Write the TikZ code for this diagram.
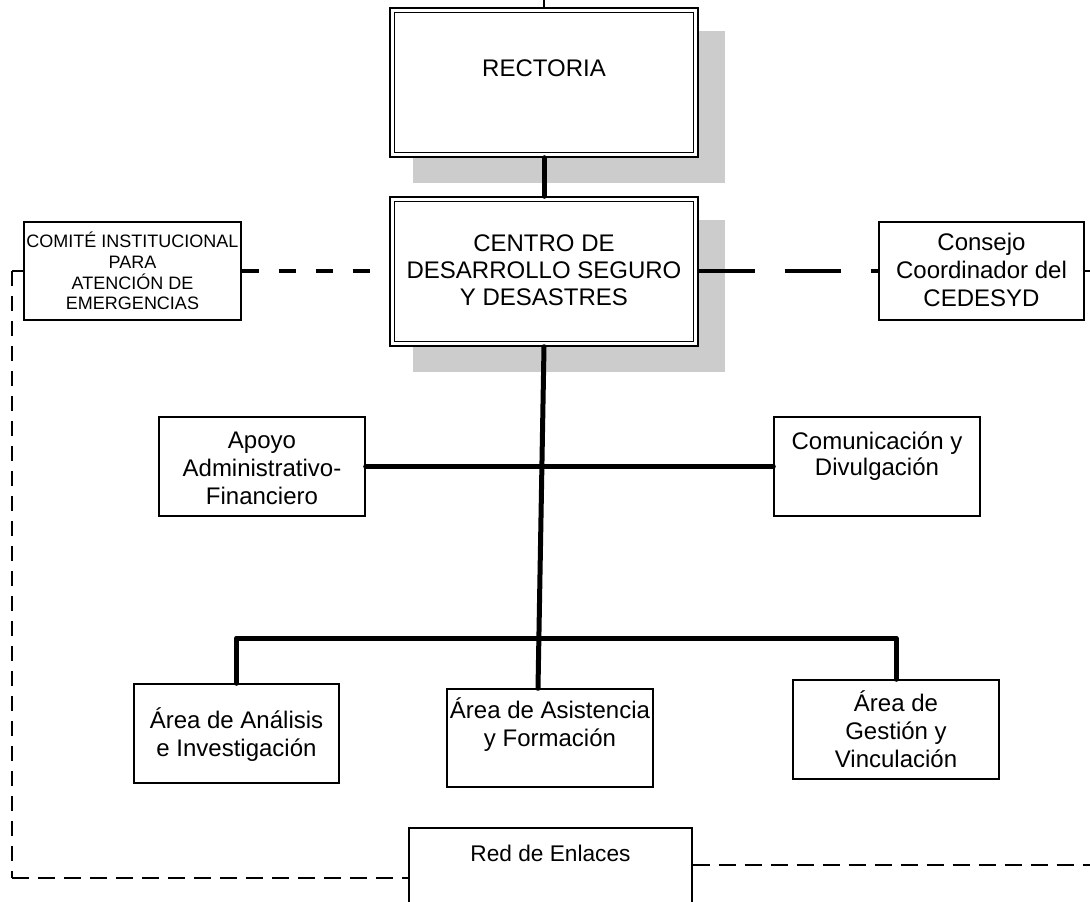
\documentclass[tikz,border=0pt]{standalone}
\usepackage{fontspec}
\setmainfont{Liberation Sans}
\usetikzlibrary{backgrounds}
\definecolor{shadowgray}{HTML}{CCCCCC}
\tikzset{
  box/.style={draw, line width=1.1pt, fill=white, rectangle, inner sep=0pt},
  thickline/.style={line width=3.75pt, line cap=round, line join=round},
  thinline/.style={line width=1.5pt},
  lbl/.style={align=center, inner sep=0pt, font=\fontsize{18pt}{21pt}\selectfont},
  smalllbl/.style={align=center, inner sep=0pt, font=\fontsize{13.5pt}{15.5pt}\selectfont},
  dashcomite/.style={line width=2.6pt, dash pattern=on 12.75pt off 15pt},
  dashconsejo/.style={line width=2.4pt, dash pattern=on 42pt off 22.5pt},
  dashvert/.style={line width=1.5pt, dash pattern=on 11.25pt off 7.5pt},
  dashbottom/.style={line width=2.2pt, dash pattern=on 12.75pt off 6.75pt},
}
\begin{document}
\begin{tikzpicture}[x=0.75pt,y=-0.75pt]
\useasboundingbox (0,0) rectangle (1090,901);
\clip (0,0) rectangle (1090,901);

% boxes
\node[box, minimum width=231pt, minimum height=111.75pt] (rect) at (544,82.5) {};
\node[box, minimum width=231pt, minimum height=111.75pt] (centro) at (544,271.5) {};
\node[box, minimum width=162.75pt, minimum height=73.5pt] (comite) at (132.5,271) {};
\node[box, minimum width=153.75pt, minimum height=73.5pt] (consejo) at (981.5,271) {};
\node[box, minimum width=154.5pt, minimum height=74.25pt] (apoyo) at (262,466.5) {};
\node[box, minimum width=154.5pt, minimum height=74.25pt] (comun) at (877,466.5) {};
\node[box, minimum width=153.75pt, minimum height=74.25pt] (anal) at (236.5,733.5) {};
\node[box, minimum width=154.5pt, minimum height=73.5pt] (asist) at (550,738) {};
\node[box, minimum width=154.5pt, minimum height=74.25pt] (gest) at (896,729.5) {};
\node[box, minimum width=212.25pt, minimum height=69pt] (red) at (550.5,874) {};

% page background and shadows
\begin{scope}[on background layer]
\fill[white] (0,0) rectangle (1090,901);
\fill[shadowgray] ([shift={(18pt,-18pt)}]rect.north west) rectangle ([shift={(19.5pt,-19pt)}]rect.south east);
\fill[shadowgray] ([shift={(18pt,-18pt)}]centro.north west) rectangle ([shift={(19.5pt,-19pt)}]centro.south east);
\end{scope}

% inner frames of the double boxes
\draw[line width=1.1pt] ([shift={(3.75pt,-3.75pt)}]rect.north west) rectangle ([shift={(-3.75pt,3.75pt)}]rect.south east);
\draw[line width=1.1pt] ([shift={(3.75pt,-3.75pt)}]centro.north west) rectangle ([shift={(-3.75pt,3.75pt)}]centro.south east);

% texts
\node[lbl] (trect) at (544,68) {RECTORIA};
\node[lbl, font=\fontsize{18pt}{20.25pt}\selectfont] (tcentro) at (544,270) {CENTRO DE\\DESARROLLO SEGURO\\Y DESASTRES};
\node[smalllbl] (tcomite) at (132.5,271) {COMITÉ INSTITUCIONAL\\PARA\\ATENCIÓN DE\\EMERGENCIAS};
\node[lbl] (tconsejo) at (981.5,270) {Consejo\\Coordinador del\\CEDESYD};
\node[lbl] (tapoyo) at (262,468.5) {Apoyo\\Administrativo-\\Financiero};
\node[lbl, font=\fontsize{18pt}{19.5pt}\selectfont] (tcomun) at (877,456) {Comunicación y\\Divulgación};
\node[lbl] (tanal) at (236.5,735) {Área de Análisis\\e Investigación};
\node[lbl] (tasist) at (550,725) {Área de Asistencia\\y Formación};
\node[lbl] (tgest) at (896,729.5) {Área de\\Gestión y\\Vinculación};
\node[font=\fontsize{17pt}{20pt}\selectfont, inner sep=0pt] (tred) at (550.5,853) {Red de Enlaces};

% coordinates
\coordinate (topend) at (544,0);
\coordinate (bus) at (540,638);
\coordinate (lc) at (12,271);
\coordinate (lb) at (12,878);
\coordinate (re) at (1090,271);
\coordinate (rb) at (1090,865);

% solid connectors
\draw[thinline] (rect.north) -- (topend);
\draw[thickline] (rect.south) -- (centro.north);
\draw[thickline] (centro.south) -- ([xshift=-9pt]asist.north);
\draw[thickline] (apoyo.east) -- (comun.west);
\draw[thickline] (anal.north) -- (anal.north |- bus) -- (gest.north |- bus) -- (gest.north);

% dashed connectors
\draw[dashcomite] (comite.east) -- (comite.east -| centro.west);
\draw[thinline] (comite.west) -- (lc);
\draw[dashvert] (lc) -- (lb);
\draw[dashbottom] (lb) -- (lb -| red.west);
\draw[dashconsejo] (centro.east |- consejo.west) -- (consejo.west);
\draw[thinline] (consejo.east) -- (re);
\draw[dashbottom] (red.east |- rb) -- (rb);
\end{tikzpicture}
\end{document}
